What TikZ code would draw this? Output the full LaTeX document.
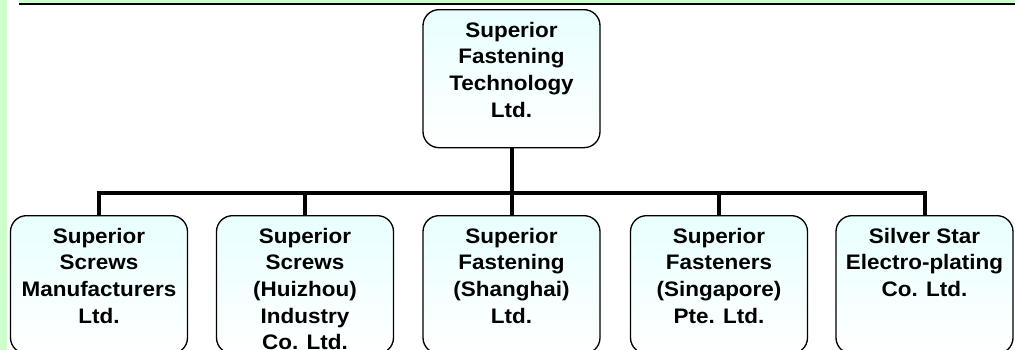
\documentclass[tikz,border=0pt]{standalone}
\usepackage{fontspec}
\setmainfont{Liberation Sans}
\newfontfamily\chartfont[FakeStretch=1.07]{Liberation Sans}
\usetikzlibrary{positioning}
\definecolor{bandgreen}{HTML}{CCFFCC}
\definecolor{boxcyan}{HTML}{CCFFFF}

\begin{document}
\begin{tikzpicture}[
    x=0.75pt, y=-0.75pt,
    unit/.style={draw=black, line width=1pt, rounded corners=12pt, anchor=north,
        minimum width=132.75pt, minimum height=103.5pt, inner sep=0pt,
        top color=boxcyan!45, middle color=boxcyan, bottom color=white},
    unitname/.style={anchor=north, align=center, inner sep=0pt, yshift=-9.5pt,
        font=\chartfont\bfseries\fontsize{15.75}{20}\selectfont},
    link/.style={line width=3pt, line join=miter}
]
\useasboundingbox (0,0) rectangle (1015,350);
\clip (0,0) rectangle (1015,350);

% page frame: green margin and heading rule
\fill[bandgreen] (0,0) rectangle (7,350);
\fill[bandgreen] (19,0) rectangle (1015,3.3);
\draw[line width=1.1pt] (19,4) -- (1015,4);

% holding company
\node[unit, label={[unitname]north:{Superior\\Fastening\\Technology\\Ltd.}}] (sft) at (511.5,9) {};

% subsidiaries
\node[unit, label={[unitname]north:{Superior\\Screws\\Manufacturers\\Ltd.}}] (ssm) at (99,215) {};
\node[unit, label={[unitname]north:{Superior\\Screws\\(Huizhou)\\Industry\\Co. Ltd.}}] (ssh) at (305,215) {};
\node[unit, label={[unitname]north:{Superior\\Fastening\\(Shanghai)\\Ltd.}}] (sfs) at (511.5,215) {};
\node[unit, label={[unitname]north:{Superior\\Fasteners\\(Singapore)\\Pte. Ltd.}}] (sfp) at (719,215) {};
\node[unit, label={[unitname]north:{Silver Star\\Electro-plating\\Co. Ltd.}}] (sse) at (924.5,215) {};

\coordinate (hub) at (511.5,193);
\foreach \sub in {ssm,ssh,sfs,sfp,sse}
  \draw[link] (sft.south) -- (hub) -| (\sub.north);

\end{tikzpicture}
\end{document}
